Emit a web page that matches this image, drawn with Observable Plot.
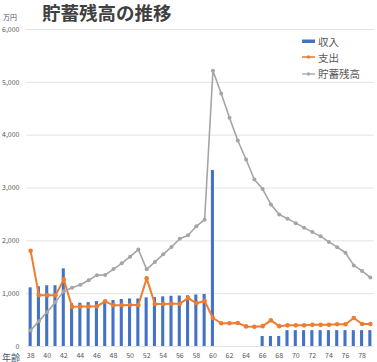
<!DOCTYPE html>
<html>
<head>
<meta charset="utf-8">
<script src="https://cdn.jsdelivr.net/npm/d3@7"></script>
<script src="https://cdn.jsdelivr.net/npm/@observablehq/plot@0.6"></script>
<style>
  html, body { margin: 0; padding: 0; background: #fff; }
  #wrap { position: relative; width: 377px; height: 362px; overflow: hidden;
          font-family: "Noto Sans CJK JP", "Noto Sans", sans-serif; }
  #wrap svg { position: absolute; left: 0; top: 0; }
  .ov { position: absolute; white-space: nowrap; line-height: 1; }
  #title { left: 42px; top: 3px; font-size: 18.5px; font-weight: bold; color: #404040; }
  #unit { left: 3px; top: 14px; font-size: 7px; color: #44546a; }
  #xname { left: 2px; top: 352.5px; font-size: 9px; color: #44546a; }
  #legend { position: absolute; left: 302px; top: 33px; font-size: 10.5px; color: #595959; }
  .li { display: flex; align-items: center; height: 16.3px; }
  .li svg { position: static !important; margin-right: 3px; }
</style>
</head>
<body>
<div id="wrap">
  <div id="chart"></div>
  <div class="ov" id="title">貯蓄残高の推移</div>
  <div class="ov" id="unit">万円</div>
  <div class="ov" id="xname">年齢</div>
  <div id="legend"></div>
</div>
<script>
const ages = [38,39,40,41,42,43,44,45,46,47,48,49,50,51,52,53,54,55,56,57,58,59,60,61,62,63,64,65,66,67,68,69,70,71,72,73,74,75,76,77,78,79];
const income = [1110,1130,1150,1150,1470,810,820,830,850,870,870,890,900,900,920,925,940,950,955,960,975,985,3330,0,0,0,0,0,190,190,190,300,300,300,300,300,300,300,300,300,300,300];
const expenses = [1810,970,970,970,1265,750,755,755,760,855,780,780,785,785,1290,805,805,810,810,915,820,860,540,440,440,445,380,375,385,495,385,400,400,400,410,410,410,420,420,540,425,425];
const savings = [305,480,655,840,1045,1110,1170,1255,1350,1355,1465,1575,1700,1835,1460,1600,1745,1885,2040,2105,2275,2400,5220,4790,4330,3900,3540,3160,2980,2690,2500,2420,2335,2250,2165,2085,1980,1880,1775,1535,1430,1305];
const seriesNames = ["収入", "支出", "貯蓄残高"];
const colors = ["#4472c4", "#ed7d31", "#a5a5a5"];
const yTicks = [0,1000,2000,3000,4000,5000,6000];
const xTicks = [38,40,42,44,46,48,50,52,54,56,58,60,62,64,66,68,70,72,74,76,78];

const data = ages.map((a, i) => ({age: a, income: income[i], expenses: expenses[i], savings: savings[i]}));

const chart = Plot.plot({
  width: 377,
  height: 362,
  marginLeft: 26,
  marginRight: 3,
  marginTop: 29,
  marginBottom: 16,
  style: {fontFamily: "'Noto Sans CJK JP', 'Noto Sans', sans-serif", fontSize: "7px", color: "#595959", background: "transparent"},
  x: {type: "linear", domain: [37.5, 79.5], ticks: xTicks, tickFormat: d => String(d), tickSize: 0, tickPadding: 7, label: null},
  y: {domain: [0, 6000], ticks: yTicks, tickFormat: d3.format(","), tickSize: 0, tickPadding: 7, label: null},
  marks: [
    Plot.ruleY(yTicks, {stroke: "#e4e4e4", strokeWidth: 1}),
    Plot.rectY(data, {x1: d => d.age - 0.5, x2: d => d.age + 0.5, y: "income", fill: colors[0], insetLeft: 2.6, insetRight: 2.6}),
    Plot.line(data, {x: "age", y: "expenses", stroke: colors[1], strokeWidth: 2}),
    Plot.dot(data, {x: "age", y: "expenses", fill: colors[1], r: 2.3}),
    Plot.line(data, {x: "age", y: "savings", stroke: colors[2], strokeWidth: 1.6}),
    Plot.dot(data, {x: "age", y: "savings", fill: colors[2], r: 2})
  ]
});
document.getElementById("chart").appendChild(chart);

const legend = document.getElementById("legend");
seriesNames.forEach((name, i) => {
  const row = document.createElement("div");
  row.className = "li";
  const sw = i === 0
    ? `<svg width="13" height="6"><rect x="0" y="1.5" width="13" height="3.5" fill="${colors[i]}"/></svg>`
    : `<svg width="13" height="6"><line x1="0" x2="13" y1="3" y2="3" stroke="${colors[i]}" stroke-width="${i===1?1.6:1.3}"/><circle cx="6.5" cy="3" r="1.7" fill="${colors[i]}"/></svg>`;
  row.innerHTML = sw + `<span>${name}</span>`;
  legend.appendChild(row);
});
</script>
</body>
</html>
